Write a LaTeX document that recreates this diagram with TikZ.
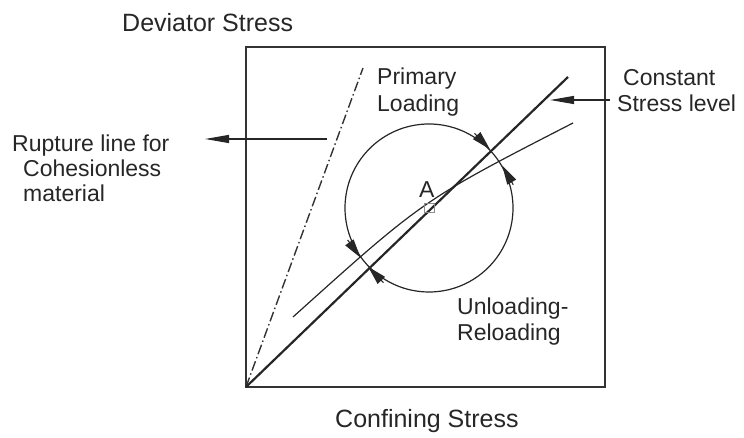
\documentclass[tikz,border=0pt]{standalone}
\usepackage{fontspec}
\setmainfont{Liberation Sans}
\usetikzlibrary{arrows.meta,calc}
\begin{document}
\begin{tikzpicture}[x=1pt,y=1pt,
  lbl/.style={inner sep=0pt, anchor=base west, font=\fontsize{23}{26}\selectfont, text=black!85},
  axl/.style={inner sep=0pt, anchor=base west, font=\fontsize{25}{28}\selectfont, text=black!85},
  ctip/.style={-{Triangle[length=19pt,width=10pt]}, line width=1.1pt},
  ltip/.style={-{Triangle[length=24pt,width=8pt]}, line width=1.2pt},
  frame/.style={draw=black!80, line width=1.8pt}]
\path[use as bounding box] (0,0) rectangle (744,438);
% frame
\draw[frame] (246,51) rectangle (605,391);
\coordinate (O) at (246,51);
% rupture line (dash-dot)
\coordinate (R) at (363,370);
\draw[black!80, line width=1.4pt, dash pattern=on 10pt off 3pt on 1.5pt off 3pt] (O) -- (R);
% constant stress level line
\coordinate (C) at (568,361);
\draw[black!85, line width=2.2pt] (O) -- (C);
% primary loading curve
\coordinate (P0) at (293,121);
\coordinate (P1) at (573,315);
\draw[black!85, line width=1.2pt] (P0) .. controls (423,238) .. (P1);
% circle
\node[circle, draw=black!85, line width=1.2pt, minimum size=168pt, inner sep=0pt] (circ) at (429,230) {};
% arrowheads on the circle (tangent segments ending at the crossings)
\draw[ctip, black!85] ($(circ.44)!22pt!-90:(circ.center)$) -- (circ.44);
\draw[ctip, black!85] ($(circ.30)!22pt!90:(circ.center)$) -- (circ.30);
\draw[ctip, black!85] ($(circ.216)!22pt!90:(circ.center)$) -- (circ.216);
\draw[ctip, black!85] ($(circ.224)!22pt!-90:(circ.center)$) -- (circ.224);
% point A
\node[lbl] (A) at (419,240) {A};
\draw[black!45, line width=0.6pt] (424,226) rectangle (434,235);
% labels
\node[axl] (dev) at (122,406) {Deviator Stress};
\node[axl] (conf) at (335,10) {Confining Stress};
\node[lbl] (prim1) at (377,353) {Primary};
\node[lbl] (prim2) at (377,326) {Loading};
\node[lbl] (cst1) at (623,352) {Constant};
\node[lbl] (cst2) at (617,326) {Stress level};
\node[lbl] (rup1) at (12,286) {Rupture line for};
\node[lbl] (rup2) at (23,261) {Cohesionless};
\node[lbl] (rup3) at (23,236) {material};
\node[lbl] (unl1) at (457,123) {Unloading-};
\node[lbl] (unl2) at (457,97) {Reloading};
% label arrows
\coordinate (ra) at (327,299);
\coordinate (rb) at (205,299);
\draw[ltip, black!85] (ra) -- (rb);
\coordinate (ca) at (610,338);
\coordinate (cb) at (550,338);
\draw[ltip, black!85] (ca) -- (cb);
\end{tikzpicture}
\end{document}
